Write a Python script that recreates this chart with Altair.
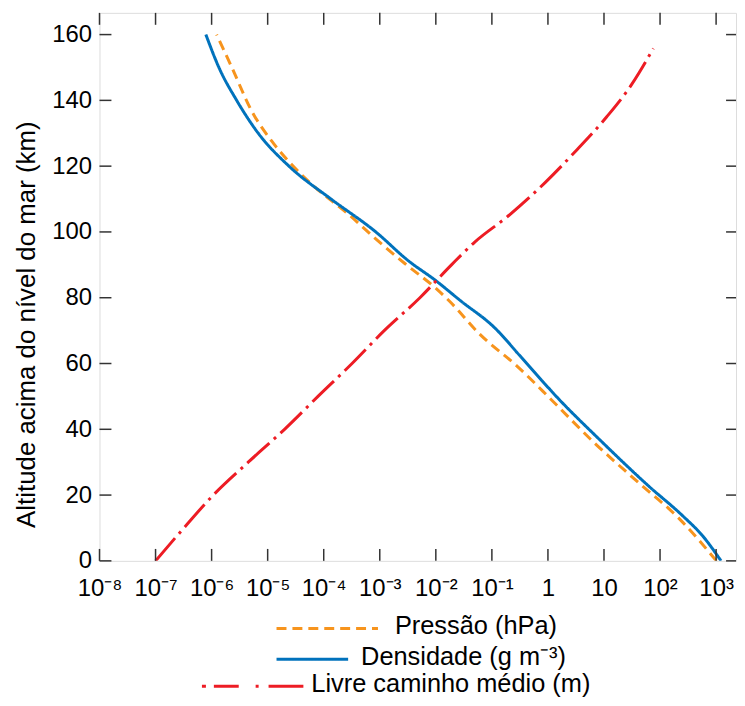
import altair as alt
import pandas as pd

# ---- data ----
series_names = ["Pressão", "Densidade", "Livre caminho médio"]
series_colors = ["#F7941D", "#0072BC", "#ED1C24"]

pressure_alt = [0, 12.7, 24, 36, 49, 59, 69, 79, 83.2, 90.4, 97.4, 105.5, 113.5, 120.7, 127, 137, 150, 160]
pressure_hpa = [1013, 224, 40, 6.6, 1.15, 0.29, 0.060, 0.0174, 0.0095, 0.0028, 9.1e-4, 2.7e-4,
                7.1e-5, 2.6e-5, 1.26e-5, 5.1e-6, 2.3e-6, 1.23e-6]

density_alt = [0, 7.6, 13.6, 22.7, 36.9, 49, 62, 71, 79, 85.3, 91.3, 100, 110, 120, 130, 140, 150, 160]
density_gm3 = [1225, 575, 257, 63, 8.3, 1.6, 0.33, 0.11, 0.028, 0.0098, 0.0032, 8.5e-4, 1.35e-4,
               2.4e-5, 6.8e-6, 2.8e-6, 1.35e-6, 7.9e-7]

mfp_alt = [0, 10, 20, 30, 40, 50, 60, 70, 80, 90, 97, 105, 115, 125, 135, 145, 155.8]
mfp_m = [1.0e-7, 3.2e-7, 1.07e-6, 4.5e-6, 2.0e-5, 7.9e-5, 3.2e-4, 1.2e-3, 5.2e-3, 0.019, 0.050,
         0.20, 0.89, 3.3, 11.2, 31.6, 76]

x_tick_values = [1e-8, 1e-7, 1e-6, 1e-5, 1e-4, 1e-3, 1e-2, 1e-1, 1, 10, 100, 1000]
x_tick_labels = ["10⁻⁸", "10⁻⁷", "10⁻⁶", "10⁻⁵", "10⁻⁴", "10⁻³", "10⁻²", "10⁻¹", "1", "10", "10²", "10³"]
y_tick_values = [0, 20, 40, 60, 80, 100, 120, 140, 160]

y_title = "Altitude acima do nível do mar (km)"
legend_labels = ["Pressão (hPa)", "Densidade (g m⁻³)", "Livre caminho médio (m)"]

# ---- build table ----
rows = []
for name, alts, vals in zip(series_names, [pressure_alt, density_alt, mfp_alt],
                            [pressure_hpa, density_gm3, mfp_m]):
    for a, v in zip(alts, vals):
        rows.append({"series": name, "y": a, "x": v})
df = pd.DataFrame(rows)

W, H = 640, 551
FONT = "Liberation Sans"
FRAME = "#333333"

xscale = alt.Scale(type="log", domain=[1e-8, 2265], nice=False)
yscale = alt.Scale(domain=[0, 166.6], nice=False, zero=False)

label_expr = "[" + ",".join("'%s'" % t for t in x_tick_labels) + "][round(log(datum.value)/LN10)+8]"

lines = alt.Chart(df).mark_line(strokeWidth=3, clip=True, interpolate="monotone").encode(
    x=alt.X("x:Q", scale=xscale, title=None,
            axis=alt.Axis(values=x_tick_values, labelExpr=label_expr, ticks=False, tickSize=0,
                          domain=False, grid=False, labelPadding=16, labelFontSize=24,
                          labelFont=FONT, labelColor="black", labelFlush=False, labelOverlap=False)),
    y=alt.Y("y:Q", scale=yscale, title=y_title,
            axis=alt.Axis(values=y_tick_values, ticks=False, tickSize=0, domain=False, grid=False,
                          labelPadding=8, labelFontSize=24, labelFont=FONT, labelColor="black",
                          titleFont=FONT, titleFontSize=26, titleFontWeight="normal",
                          titleColor="black", titlePadding=12, titleY=313, labelFlush=False)),
    color=alt.Color("series:N", scale=alt.Scale(domain=series_names, range=series_colors), legend=None),
    strokeDash=alt.StrokeDash("series:N", scale=alt.Scale(domain=series_names,
                                                          range=[[10, 6], [1, 0], [30, 6, 3, 6]]),
                              legend=None),
    order=alt.Order("y:Q"),
)

xt = pd.DataFrame({"x": x_tick_values})
yt = pd.DataFrame({"y": y_tick_values})

tick_style = dict(color=FRAME, strokeWidth=1.5)
bottom_ticks = alt.Chart(xt).mark_rule(**tick_style).encode(
    x=alt.X("x:Q", scale=xscale), y=alt.value(H), y2=alt.value(H - 12))
top_ticks = alt.Chart(xt).mark_rule(**tick_style).encode(
    x=alt.X("x:Q", scale=xscale), y=alt.value(0), y2=alt.value(12))
left_ticks = alt.Chart(yt).mark_rule(**tick_style).encode(
    y=alt.Y("y:Q", scale=yscale), x=alt.value(0), x2=alt.value(12))
right_ticks = alt.Chart(yt).mark_rule(**tick_style).encode(
    y=alt.Y("y:Q", scale=yscale), x=alt.value(W - 10), x2=alt.value(W))

one = pd.DataFrame({"k": [0]})


def leg_line(x0, x1, y, color, dash):
    return alt.Chart(one).mark_rule(color=color, strokeWidth=3, strokeDash=dash).encode(
        x=alt.value(x0), x2=alt.value(x1), y=alt.value(y))


def leg_text(x, y, txt):
    return alt.Chart(one).mark_text(align="left", baseline="alphabetic", fontSize=25.5,
                                    font=FONT, color="black").encode(
        x=alt.value(x), y=alt.value(y), text=alt.value(txt))


legend = [
    leg_line(178, 280, 619, series_colors[0], [10, 6]),
    leg_text(297, 625, legend_labels[0]),
    leg_line(178, 250, 650, series_colors[1], [1, 0]),
    leg_text(263, 656, legend_labels[1]),
    leg_line(103, 205, 677, series_colors[2], [4, 8, 25, 17, 3, 10, 35, 60]),
    leg_text(213, 683, legend_labels[2]),
]

chart = alt.layer(lines, bottom_ticks, top_ticks, left_ticks, right_ticks, *legend).properties(
    width=W, height=H, padding={"left": 5, "top": 2, "right": 0, "bottom": 0}
).configure_view(stroke=FRAME, strokeWidth=1.5).configure(background="white")

chart.save("out.html", embed_options={"renderer": "svg", "actions": False})
